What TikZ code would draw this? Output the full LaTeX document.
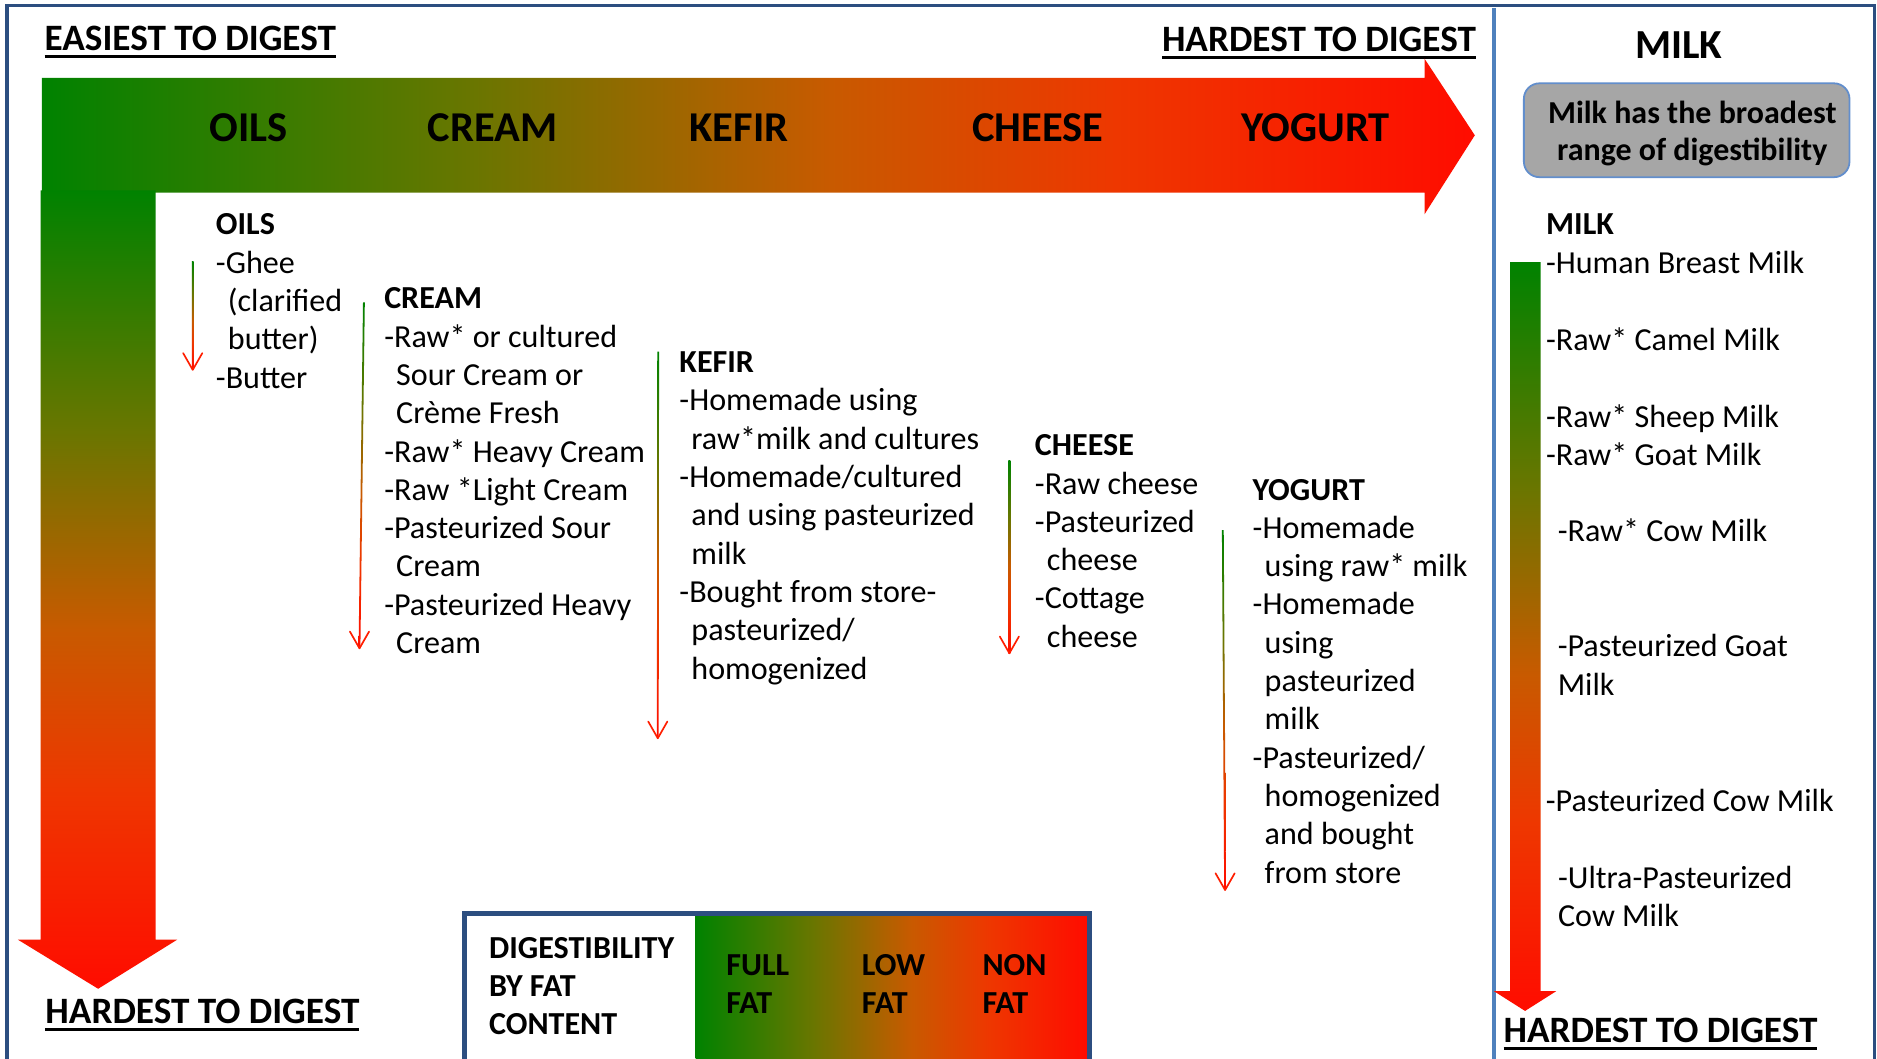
\documentclass[tikz,border=0pt]{standalone}
\usepackage{fontspec}
\setmainfont{Carlito}
\usetikzlibrary{calc}

\definecolor{frameblue}{RGB}{44,78,128}
\definecolor{divblue}{RGB}{79,129,189}
\definecolor{boxgray}{RGB}{166,166,166}
\definecolor{boxedge}{RGB}{98,142,204}
\definecolor{tipred}{RGB}{255,30,0}
\definecolor{gA}{RGB}{0,130,0}
\definecolor{gB}{RGB}{105,118,0}
\definecolor{gC}{RGB}{150,105,0}
\definecolor{gD}{RGB}{200,90,0}
\definecolor{gE}{RGB}{238,55,0}
\definecolor{gF}{RGB}{255,12,0}

% green (easy) to red (hard), left to right
\pgfdeclarehorizontalshading{digesth}{100bp}{color(0bp)=(gA); color(25bp)=(gA);
  color(40bp)=(gB); color(46bp)=(gC); color(52.5bp)=(gD); color(62.5bp)=(gE);
  color(75bp)=(gF); color(100bp)=(gF)}
% green (easy) at the top, red (hard) at the bottom
\pgfdeclareverticalshading{digestv}{100bp}{color(0bp)=(gF); color(25bp)=(gF);
  color(37.5bp)=(gE); color(47.5bp)=(gD); color(54bp)=(gC); color(60bp)=(gB);
  color(75bp)=(gA); color(100bp)=(gA)}

\newcommand{\ind}{\hspace*{10bp}}

\begin{document}
\begin{tikzpicture}[x=1bp,y=-1bp,
  every node/.style={inner sep=0pt, outer sep=0pt},
  body/.style={anchor=base west, font=\fontsize{26.8bp}{32bp}\selectfont},
  bodyb/.style={anchor=base west, font=\fontsize{26.8bp}{32bp}\selectfont\bfseries},
  boxtext/.style={anchor=base, font=\fontsize{26.7bp}{32bp}\selectfont\bfseries},
  title/.style={anchor=base west, font=\fontsize{31.1bp}{36bp}\selectfont\bfseries},
  barlabel/.style={anchor=base west, font=\fontsize{35.5bp}{40bp}\selectfont\bfseries},
  thinhead/.style={draw=tipred, line width=1.4bp, line cap=round, line join=round},
]

% page
\fill[white] (0,0) rectangle (1568,884);
\useasboundingbox (0,0) rectangle (1568,884);

\newcommand{\foodcol}[5]{%
  \node[bodyb] (#1-0) at (#2,#3) {#4};
  \foreach \t [count=\i] in {#5} {\node[body] (#1-\i) at (#2,#3+\i*32) {\t};}
}
\newcommand{\thinarrow}[3]{%
  \coordinate (#1-top) at #2;
  \coordinate (#1-tip) at #3;
  \shade[shading=digestv] ($(#1-top)+(-0.75,0)$) -- ($(#1-top)+(0.75,0)$)
     -- ($(#1-tip)+(0.75,0)$) -- ($(#1-tip)+(-0.75,0)$) -- cycle;
  \draw[thinhead] ($(#1-tip)+(-8,-14)$) -- (#1-tip) -- ($(#1-tip)+(8,-14)$);
}
\newcommand{\titleline}[1]{%
  \draw[line width=2.3bp] ($(#1.base west)+(0,5)$) -- ($(#1.base east)+(0,5)$);
}

% outer frame and panel divider
\draw[frameblue, line width=3bp] (6,950) -- (6,4.5) -- (1566,4.5) -- (1566,950);
\draw[divblue, line width=4bp] (1248,7) -- (1248,950);

% headings
\node[title] (easiest) at (37.3,42.5) {EASIEST TO DIGEST};
\titleline{easiest}
\node[title] (hardtop) at (970.7,43.2) {HARDEST TO DIGEST};
\titleline{hardtop}
\node[title] (hardleft) at (38,854.8) {HARDEST TO DIGEST};
\titleline{hardleft}

% horizontal arrow: easy to hard
\shade[shading=digesth] (35,65) -- (1190,65) -- (1190,49) -- (1232,113)
  -- (1190,179) -- (1190,161) -- (35,161) -- cycle;
% vertical arrow: easy to hard
\shade[shading=digestv] (34,159) -- (130,159) -- (130,785) -- (148,785)
  -- (82,826) -- (15,785) -- (34,785) -- cycle;

\node[barlabel] (bar-oils) at (175.3,118.5) {OILS};
\node[barlabel] (bar-cream) at (357.3,118.5) {CREAM};
\node[barlabel] (bar-kefir) at (576,118.5) {KEFIR};
\node[barlabel] (bar-cheese) at (812,118.5) {CHEESE};
\node[barlabel] (bar-yogurt) at (1037,118.5) {YOGURT};

% food columns
\foodcol{oils}{180.4}{196.3}{OILS}{-Ghee, \ind(clarified, \ind butter), -Butter}
\foodcol{cream}{321}{258}{CREAM}{-Raw* or cultured, \ind Sour Cream or, \ind Crème Fresh,
  -Raw* Heavy Cream, -Raw *Light Cream, -Pasteurized Sour, \ind Cream,
  -Pasteurized Heavy, \ind Cream}
\foodcol{kefir}{567.6}{311.3}{KEFIR}{-Homemade using, \ind raw*milk and cultures,
  -Homemade/cultured, \ind and using pasteurized, \ind milk, -Bought from store-,
  \ind pasteurized/, \ind homogenized}
\foodcol{cheese}{864.6}{380.7}{CHEESE}{-Raw cheese, -Pasteurized, \ind cheese,
  -Cottage, \ind cheese}
\foodcol{yogurt}{1046.5}{417.7}{YOGURT}{-Homemade, \ind using raw* milk, -Homemade,
  \ind using, \ind pasteurized, \ind milk, -Pasteurized/, \ind homogenized,
  \ind and bought, \ind from store}

% thin arrows beside each column
\thinarrow{oilarr}{(161,218.6)}{(161,309)}
\thinarrow{creamarr}{(304,252.5)}{(300.3,541.6)}
\thinarrow{kefirarr}{(549.8,293.8)}{(549.5,616.7)}
\thinarrow{cheesearr}{(843.2,385)}{(843.2,545.7)}
\thinarrow{yogurtarr}{(1021.5,442.8)}{(1023.4,743.5)}

% fat content legend
\shade[shading=digesth] (581,765) rectangle (908,950);
\draw[frameblue, line width=4bp] (388,950) -- (388,763) -- (910,763) -- (910,950);
\node[bodyb] (leg-1) at (408.6,800.5) {DIGESTIBILITY};
\node[bodyb] (leg-2) at (408.6,832.5) {BY FAT};
\node[bodyb] (leg-3) at (408.6,864.5) {CONTENT};
\node[bodyb] (full-1) at (606.8,814.5) {FULL};
\node[bodyb] (full-2) at (606.8,846.5) {FAT};
\node[bodyb] (low-1) at (720,814.5) {LOW};
\node[bodyb] (low-2) at (720,846.5) {FAT};
\node[bodyb] (non-1) at (820.8,814.5) {NON};
\node[bodyb] (non-2) at (820.8,846.5) {FAT};

% milk panel
\node[anchor=base west, font=\fontsize{34.5bp}{40bp}\selectfont\bfseries] (milktitle) at (1366,49) {MILK};
\draw[boxedge, fill=boxgray, line width=1.5bp, rounded corners=13bp] (1273,69.6) rectangle (1545,148);
\node[boxtext] (note-1) at (1413.7,103) {Milk has the broadest};
\node[boxtext] (note-2) at (1413.7,134) {range of digestibility};

\shade[shading=digestv] (1261.5,219) -- (1287,219) -- (1287,828) -- (1300,828)
  -- (1274,844.5) -- (1248,828) -- (1261.5,828) -- cycle;

\node[bodyb] (milk-0) at (1291.6,196.3) {MILK};
\node[body] (milk-1) at (1291.5,228.3) {-Human Breast Milk};
\node[body] (milk-2) at (1291.5,292.4) {-Raw* Camel Milk};
\node[body] (milk-3) at (1291.5,357.3) {-Raw* Sheep Milk};
\node[body] (milk-4) at (1291.5,388.5) {-Raw* Goat Milk};
\node[body] (milk-5) at (1301.3,452.5) {-Raw* Cow Milk};
\node[body] (milk-6) at (1301.3,548.6) {-Pasteurized Goat};
\node[body] (milk-6b) at (1301.3,580.6) {Milk};
\node[body] (milk-7) at (1291.3,678) {-Pasteurized Cow Milk};
\node[body] (milk-8) at (1301.6,742) {-Ultra-Pasteurized};
\node[body] (milk-8b) at (1301.6,773.6) {Cow Milk};

\node[title] (hardmilk) at (1256,871) {HARDEST TO DIGEST};
\titleline{hardmilk}

\end{tikzpicture}
\end{document}
